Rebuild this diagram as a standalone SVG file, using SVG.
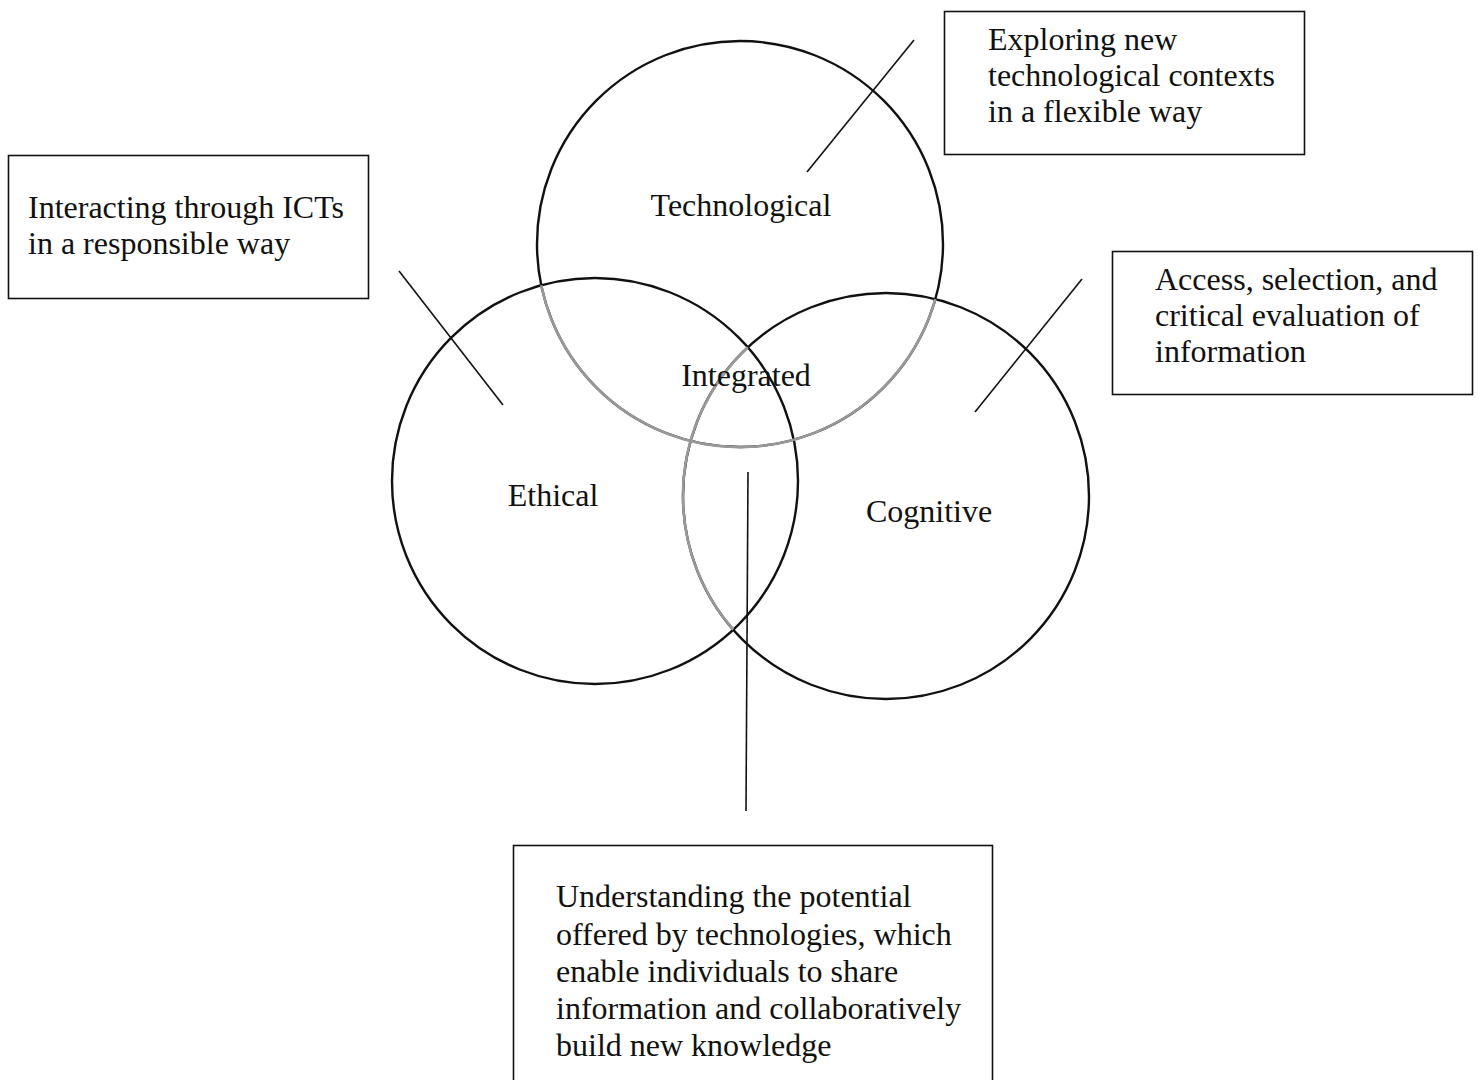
<svg xmlns="http://www.w3.org/2000/svg" width="1479" height="1080" viewBox="0 0 1479 1080">
<style>
.c{fill:none;stroke:#111;stroke-width:2.4}
.g{fill:none;stroke:#999;stroke-width:2.6}
.b{fill:#fff;stroke:#111;stroke-width:1.6}
.t{font-family:"Liberation Serif","Times New Roman",serif;font-size:32px;fill:#111}
.l{font-family:"Liberation Serif","Times New Roman",serif;font-size:32px;fill:#111;text-anchor:middle}
.k{stroke:#111;stroke-width:1.6;fill:none}
</style>
<rect width="1479" height="1080" fill="#fff"/>
<g id="technological">
<circle class="c" cx="740" cy="244" r="203"/>
<text class="l" x="741" y="216">Technological</text>
</g>
<g id="ethical">
<circle class="c" cx="595" cy="481" r="203"/>
<text class="l" x="553" y="506">Ethical</text>
</g>
<g id="cognitive">
<circle class="c" cx="886" cy="496" r="203"/>
<text class="l" x="929" y="522">Cognitive</text>
</g>
<g id="overlaps">
<path class="g" d="M 541.2 285.2 A 203 203 0 0 0 935.4 299.1"/>
<path class="g" d="M 747.8 347.3 A 203 203 0 0 0 733.2 629.7"/>
</g>
<g id="integrated">
<text class="l" x="746" y="386">Integrated</text>
</g>
<g id="connectors">
<line class="k" x1="914" y1="40" x2="807" y2="172"/>
<line class="k" x1="399" y1="271" x2="503" y2="405"/>
<line class="k" x1="1082" y1="279" x2="975" y2="412"/>
<line class="k" x1="748" y1="472" x2="746" y2="811"/>
</g>
<g id="box-technological">
<rect class="b" x="944.5" y="11.5" width="360" height="143"/>
<text class="t" x="988" y="50">Exploring new</text>
<text class="t" x="988" y="86">technological contexts</text>
<text class="t" x="988" y="122">in a flexible way</text>
</g>
<g id="box-ethical">
<rect class="b" x="8.5" y="155.5" width="360" height="143"/>
<text class="t" x="28" y="218">Interacting through ICTs</text>
<text class="t" x="28" y="254">in a responsible way</text>
</g>
<g id="box-cognitive">
<rect class="b" x="1112.5" y="251.5" width="360" height="143"/>
<text class="t" x="1155" y="290">Access, selection, and</text>
<text class="t" x="1155" y="326">critical evaluation of</text>
<text class="t" x="1155" y="362">information</text>
</g>
<g id="box-integrated">
<rect class="b" x="513.5" y="845.5" width="479" height="250"/>
<text class="t" x="556" y="907">Understanding the potential</text>
<text class="t" x="556" y="945">offered by technologies, which</text>
<text class="t" x="556" y="982">enable individuals to share</text>
<text class="t" x="556" y="1019">information and collaboratively</text>
<text class="t" x="556" y="1056">build new knowledge</text>
</g>
</svg>
